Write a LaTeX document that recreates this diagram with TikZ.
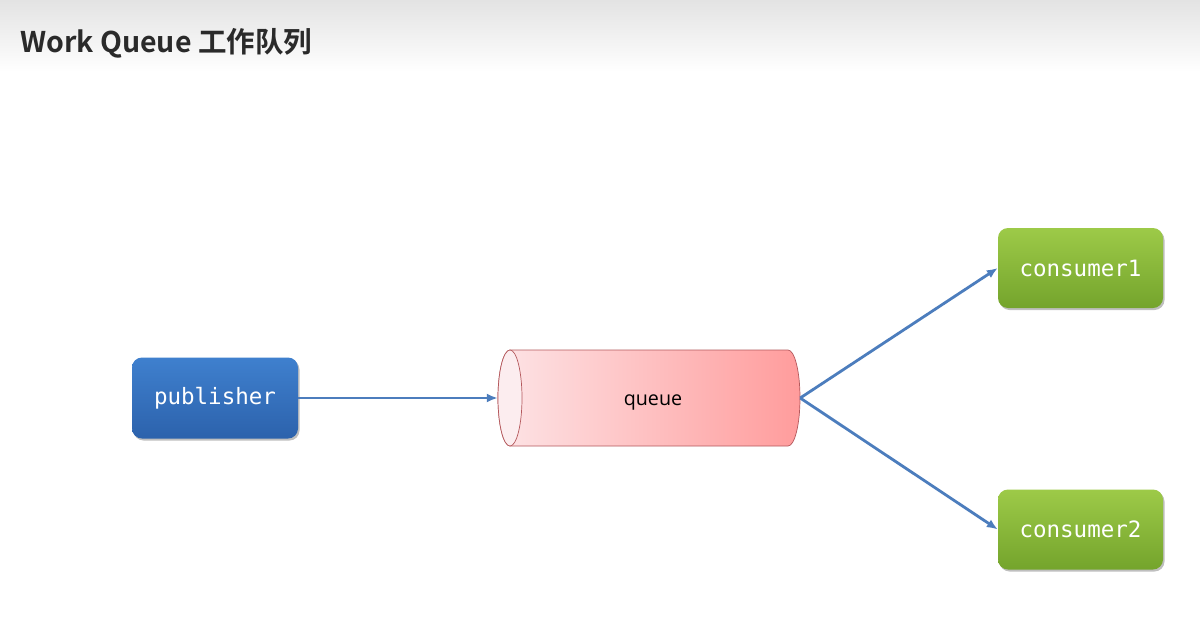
\documentclass[tikz,border=0pt]{standalone}
\usepackage{fontspec}
\setmainfont{Open Sans}
\newfontfamily\cjkbold{Noto Sans CJK SC Bold}
\setmonofont{DejaVu Sans Mono}
\usetikzlibrary{arrows.meta,shadows,calc}
\definecolor{pubtop}{HTML}{3F80CE}
\definecolor{pubbot}{HTML}{2C62AC}
\definecolor{contop}{HTML}{9DCA48}
\definecolor{conbot}{HTML}{74A42C}
\definecolor{qleft}{HTML}{FDE4E6}
\definecolor{qright}{HTML}{FF9C9C}
\definecolor{qend}{HTML}{FCEDEF}
\definecolor{qline}{HTML}{B4585C}
\definecolor{arr}{HTML}{4C7DBD}
\definecolor{titlecol}{HTML}{2A2A2A}
\begin{document}
\begin{tikzpicture}[x=1pt,y=-1pt,
  box/.style={rounded corners=10pt, minimum width=166pt, minimum height=81pt,
    text=white, font=\ttfamily\fontsize{22.5}{26}\selectfont,
    drop shadow={shadow xshift=1.5pt, shadow yshift=-2pt, opacity=0.25, fill=black}},
  pubbox/.style={box, top color=pubtop, bottom color=pubbot},
  conbox/.style={box, top color=contop, bottom color=conbot, minimum width=165pt, minimum height=80pt},
  conn/.style={draw=arr, line width=2.8pt, -{Latex[length=11pt,width=9pt]}}
]
\useasboundingbox (0,0) rectangle (1200,619);
\fill[white] (0,0) rectangle (1200,619);
\shade[top color=black!11, bottom color=white] (0,0) rectangle (1200,72);
\node[anchor=west, text=titlecol, font=\cjkbold\fontsize{28.5}{33}\selectfont, inner sep=0pt] (title) at (20,43) {Work Queue 工作队列};

\node[pubbox] (pub) at (215,398) {publisher};
\node[conbox] (c1) at (1080.5,268) {consumer1};
\node[conbox] (c2) at (1080.5,529.5) {consumer2};

% queue cylinder
\node[minimum width=302pt, minimum height=96pt, inner sep=0pt] (q) at (649,398) {};
\shade[left color=qleft, right color=qright, draw=qline, line width=0.7pt]
  (510,350) -- (788,350) arc[start angle=90, end angle=-90, x radius=12pt, y radius=48pt]
  -- (510,446) arc[start angle=270, end angle=90, x radius=12pt, y radius=48pt] -- cycle;
\filldraw[fill=qend, draw=qline, line width=0.7pt] (510,398) ellipse[x radius=12pt, y radius=48pt];
\node[font=\fontsize{19.7}{24}\selectfont, text=black] (qlabel) at (653,402) {queue};

\draw[conn] (pub.east) -- (q.west);
\draw[conn] (q.east) -- (c1.west);
\draw[conn] (q.east) -- (c2.west);
\end{tikzpicture}
\end{document}
